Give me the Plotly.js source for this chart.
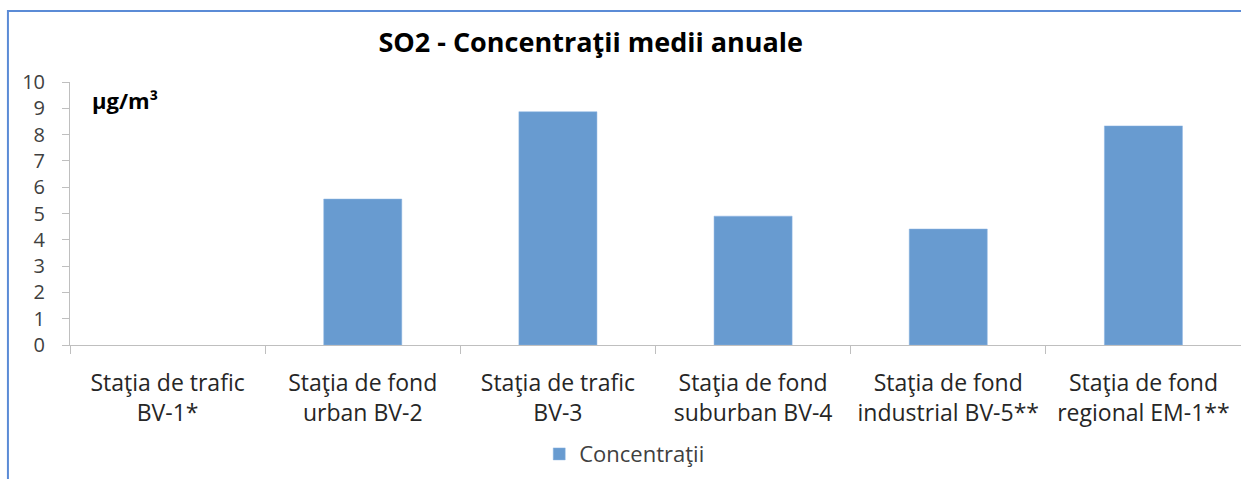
<!DOCTYPE html>
<html>
<head>
<meta charset="utf-8">
<script src="https://cdn.plot.ly/plotly-3.0.1.min.js"></script>
<style>
html,body{margin:0;padding:0;background:#fff;}
#chart{width:1241px;height:479px;}
</style>
</head>
<body>
<div id="chart"></div>
<script>
const categories = [
  "Staţia de trafic<br>BV-1*",
  "Staţia de fond<br>urban BV-2",
  "Staţia de trafic<br>BV-3",
  "Staţia de fond<br>suburban BV-4",
  "Staţia de fond<br>industrial BV-5**",
  "Staţia de fond<br>regional EM-1**"
];
const concentratii = [null, 5.55, 8.87, 4.9, 4.41, 8.33];
const seriesName = "Concentraţii";
const chartTitle = "SO2 - Concentraţii medii anuale";
const unitLabel = "µg/m³";

const FONT = "Open Sans, Liberation Sans, Arial, sans-serif";
const trace = {
  type: "bar",
  x: categories,
  y: concentratii,
  name: seriesName,
  marker: {color: "#689BD0", line: {color: "#8DB4E2", width: 0.5}},
  showlegend: true,
  hoverinfo: "x+y"
};

const layout = {
  width: 1241,
  height: 479,
  margin: {l: 70, r: 0, t: 82, b: 134},
  paper_bgcolor: "#ffffff",
  plot_bgcolor: "#ffffff",
  font: {family: FONT, color: "#404040"},
  title: {
    text: "<b>" + chartTitle + "</b>",
    font: {family: FONT, size: 27, color: "#000000"},
    x: 0.476, xref: "container", xanchor: "center",
    y: 0.912, yref: "container", yanchor: "middle"
  },
  bargap: 0.6,
  xaxis: {
    type: "category",
    showline: true, linecolor: "#BFBFBF", linewidth: 1,
    ticks: "outside", tickson: "boundaries", ticklen: 8, tickcolor: "#BFBFBF",
    showgrid: false, zeroline: false,
    tickfont: {family: FONT, size: 23, color: "#262626"},
    ticklabelstandoff: 17
  },
  yaxis: {
    range: [0, 10],
    dtick: 1,
    showline: true, linecolor: "#BFBFBF", linewidth: 1,
    ticks: "outside", ticklen: 7, tickcolor: "#BFBFBF",
    showgrid: false, zeroline: false,
    tickfont: {family: FONT, size: 20, color: "#404040"},
    ticklabelstandoff: 13
  },
  legend: {
    orientation: "h",
    x: 0.503, xref: "container", xanchor: "center",
    y: 0.052, yref: "container", yanchor: "middle",
    font: {family: FONT, size: 22, color: "#404040"},
    itemwidth: 30
  },
  annotations: [{
    text: "<b>" + unitLabel + "</b>",
    xref: "paper", yref: "paper",
    x: 0.017, y: 0.93, xanchor: "left", yanchor: "middle",
    showarrow: false,
    font: {family: FONT, size: 22, color: "#000000"}
  }],
  shapes: [{
    type: "rect", xref: "paper", yref: "paper",
    x0: -0.053, x1: 1.2, y0: -0.6, y1: 1.27,
    line: {color: "#5B8BD6", width: 2}, fillcolor: "rgba(0,0,0,0)",
    layer: "below"
  }]
};

Plotly.newPlot("chart", [trace], layout, {displayModeBar: false, staticPlot: true});
</script>
</body>
</html>
